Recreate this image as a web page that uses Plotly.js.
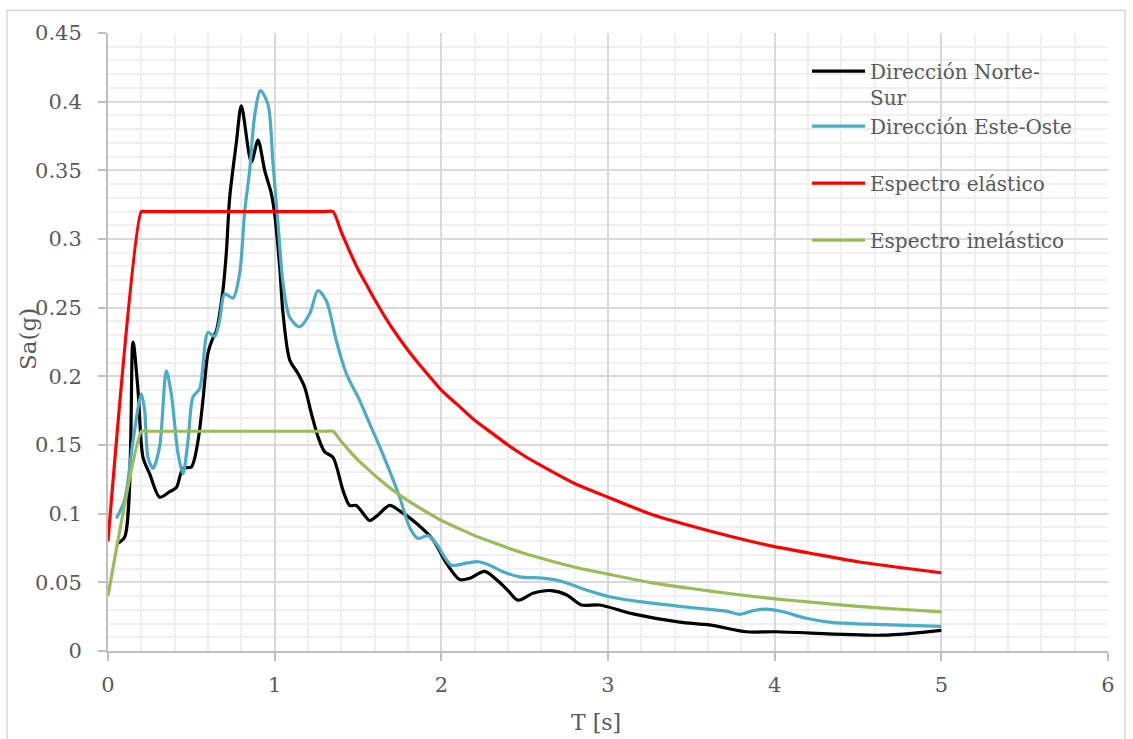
<!DOCTYPE html>
<html>
<head>
<meta charset="utf-8">
<script src="https://cdn.plot.ly/plotly-3.0.1.min.js"></script>
<style>html,body{margin:0;padding:0;background:#fff;}#chart{width:1133px;height:739px;}</style>
</head>
<body>
<div id="chart"></div>
<script>
// Dirección Norte-Sur
const tNS = [0.05, 0.10, 0.15, 0.18, 0.21, 0.25, 0.31, 0.37, 0.41, 0.45, 0.50, 0.54, 0.57, 0.60, 0.63, 0.65, 0.69, 0.71, 0.73, 0.77, 0.80, 0.86, 0.90, 0.94, 0.98, 1.00, 1.03, 1.05, 1.09, 1.14, 1.18, 1.22, 1.26, 1.30, 1.35, 1.41, 1.45, 1.49, 1.57, 1.61, 1.69, 1.75, 1.85, 1.95, 2.03, 2.11, 2.17, 2.26, 2.33, 2.40, 2.46, 2.55, 2.66, 2.75, 2.84, 2.95, 3.15, 3.43, 3.61, 3.83, 4.01, 4.65, 5.00];
const saNS = [0.078, 0.083, 0.225, 0.19, 0.141, 0.129, 0.112, 0.116, 0.119, 0.133, 0.134, 0.153, 0.183, 0.217, 0.228, 0.233, 0.263, 0.29, 0.33, 0.37, 0.397, 0.356, 0.372, 0.35, 0.333, 0.318, 0.28, 0.246, 0.212, 0.202, 0.192, 0.173, 0.156, 0.145, 0.141, 0.117, 0.106, 0.106, 0.095, 0.098, 0.106, 0.102, 0.093, 0.081, 0.064, 0.052, 0.053, 0.058, 0.052, 0.044, 0.037, 0.042, 0.044, 0.041, 0.0335, 0.0335, 0.027, 0.021, 0.019, 0.014, 0.014, 0.0115, 0.015];

// Dirección Este-Oste
const tEW = [0.05, 0.10, 0.15, 0.20, 0.22, 0.24, 0.27, 0.31, 0.35, 0.38, 0.42, 0.45, 0.48, 0.51, 0.55, 0.60, 0.64, 0.67, 0.70, 0.75, 0.79, 0.82, 0.85, 0.88, 0.915, 0.96, 0.99, 1.02, 1.05, 1.09, 1.15, 1.21, 1.26, 1.31, 1.37, 1.43, 1.51, 1.57, 1.65, 1.75, 1.81, 1.86, 1.92, 1.97, 2.06, 2.15, 2.22, 2.29, 2.37, 2.47, 2.61, 2.73, 2.87, 3.01, 3.19, 3.43, 3.61, 3.71, 3.79, 3.87, 3.95, 4.05, 4.19, 4.35, 4.55, 5.00];
const saEW = [0.0965, 0.11, 0.153, 0.187, 0.175, 0.141, 0.133, 0.149, 0.204, 0.187, 0.144, 0.129, 0.153, 0.185, 0.191, 0.232, 0.229, 0.241, 0.260, 0.257, 0.275, 0.320, 0.350, 0.390, 0.408, 0.398, 0.355, 0.311, 0.268, 0.243, 0.236, 0.2455, 0.2625, 0.255, 0.226, 0.202, 0.1825, 0.1655, 0.143, 0.112, 0.090, 0.082, 0.084, 0.078, 0.0625, 0.064, 0.065, 0.0625, 0.0577, 0.054, 0.053, 0.0504, 0.0444, 0.0395, 0.0359, 0.0325, 0.0303, 0.029, 0.0267, 0.0293, 0.0305, 0.0286, 0.0238, 0.0206, 0.0196, 0.018];

// Espectro elástico / inelástico
const tSpec = [0, 0.2, 0.22, 1.3, 1.35, 1.4, 1.45, 1.5, 1.55, 1.6, 1.7, 1.8, 1.9, 2.0, 2.1, 2.2, 2.3, 2.4, 2.5, 2.6, 2.8, 3.0, 3.25, 3.5, 3.75, 4.0, 4.25, 4.5, 4.75, 5.0];
const saElastic = [0.08, 0.32, 0.32, 0.32, 0.32, 0.305, 0.291, 0.278, 0.267, 0.256, 0.236, 0.219, 0.204, 0.190, 0.179, 0.168, 0.159, 0.150, 0.142, 0.135, 0.122, 0.112, 0.100, 0.091, 0.083, 0.076, 0.0704, 0.065, 0.0608, 0.057];
const saInelastic = [0.04, 0.16, 0.16, 0.16, 0.16, 0.1525, 0.1455, 0.139, 0.1335, 0.128, 0.118, 0.1095, 0.102, 0.095, 0.0895, 0.084, 0.0795, 0.075, 0.071, 0.0675, 0.061, 0.056, 0.050, 0.0455, 0.0415, 0.038, 0.0352, 0.0325, 0.0304, 0.0285];

const seriesNames = ["Dirección Norte-<br>Sur", "Dirección Este-Oste", "Espectro elástico", "Espectro inelástico"];
const seriesColors = ["#000000", "#4BACC6", "#FF0000", "#9BBB59"];

const xTicks = [0, 1, 2, 3, 4, 5, 6];
const xTickText = ["0", "1", "2", "3", "4", "5", "6"];
const yTicks = [0, 0.05, 0.1, 0.15, 0.2, 0.25, 0.3, 0.35, 0.4, 0.45];
const yTickText = ["0", "0.05", "0.1", "0.15", "0.2", "0.25", "0.3", "0.35", "0.4", "0.45"];

// minor grid positions (skip majors)
const xMinor = [];
for (let i = 1; i < 30; i++) { if (i % 5 !== 0) xMinor.push(+(i * 0.2).toFixed(2)); }
const yMinor = [];
for (let i = 1; i < 45; i++) { if (i % 5 !== 0) yMinor.push(+(i * 0.01).toFixed(2)); }

const FONT = "DejaVu Serif, Liberation Serif, serif";
const TXT = "#595959";

function tr(x, y, i, group, smoothing) {
  return {x: x, y: y, type: "scatter", mode: "lines", name: seriesNames[i], legendgroup: group,
    line: {color: seriesColors[i], width: 3.2, shape: "spline", smoothing: smoothing}};
}
const data = [
  tr(tNS, saNS, 0, "a", 0.8),
  tr(tEW, saEW, 1, "a", 0.8),
  tr(tSpec, saElastic, 2, "b", 0.6),
  tr(tSpec, saInelastic, 3, "c", 0.6)
];

const axisBase = {
  showgrid: true, gridcolor: "#d9d9d9", gridwidth: 2,
  showline: true, linecolor: "#bfbfbf", linewidth: 2, ticks: "outside", ticklen: 8, tickcolor: "#bfbfbf", tickwidth: 2,
  zeroline: false, tickfont: {family: FONT, size: 21, color: TXT}, fixedrange: true
};

const layout = {
  width: 1133, height: 739,
  margin: {l: 108, r: 25, t: 33, b: 88, pad: 0},
  paper_bgcolor: "#ffffff", plot_bgcolor: "#ffffff",
  font: {family: FONT, color: TXT, size: 20},
  showlegend: true,
  legend: {x: 0.699, y: 0.97, xanchor: "left", yanchor: "top", bgcolor: "rgba(0,0,0,0)",
    font: {family: FONT, size: 20, color: TXT}, itemwidth: 53, traceorder: "grouped",
    tracegroupgap: 28, valign: "top"},
  xaxis: Object.assign({}, axisBase, {range: [0, 6], tickmode: "array", tickvals: xTicks, ticktext: xTickText,
    ticklabelstandoff: 6,
    minor: {tickmode: "array", tickvals: xMinor, showgrid: true, gridcolor: "#f0f0f0", gridwidth: 2, ticks: ""}}),
  yaxis: Object.assign({}, axisBase, {range: [0, 0.45], tickmode: "array", tickvals: yTicks, ticktext: yTickText,
    ticklabelstandoff: 12,
    minor: {tickmode: "array", tickvals: yMinor, showgrid: true, gridcolor: "#f0f0f0", gridwidth: 2, ticks: ""}}),
  annotations: [
    {text: "Sa(g)", xref: "paper", yref: "paper", x: 0, y: 0.5, xanchor: "center", yanchor: "middle",
      xshift: -80, yshift: 3, textangle: -90, showarrow: false, font: {family: FONT, size: 23, color: TXT}},
    {text: "T [s]", xref: "paper", yref: "paper", x: 0.488, y: 0, xanchor: "center", yanchor: "middle",
      yshift: -71, showarrow: false, font: {family: FONT, size: 22, color: TXT}}
  ],
  shapes: [
    {type: "rect", xref: "paper", yref: "paper", x0: -0.101, x1: 1.017, y0: -0.2, y1: 1.037,
      line: {color: "#d9d9d9", width: 1.5}, fillcolor: "rgba(0,0,0,0)", layer: "below"}
  ]
};

Plotly.newPlot("chart", data, layout, {displayModeBar: false, staticPlot: true});
</script>
</body>
</html>
